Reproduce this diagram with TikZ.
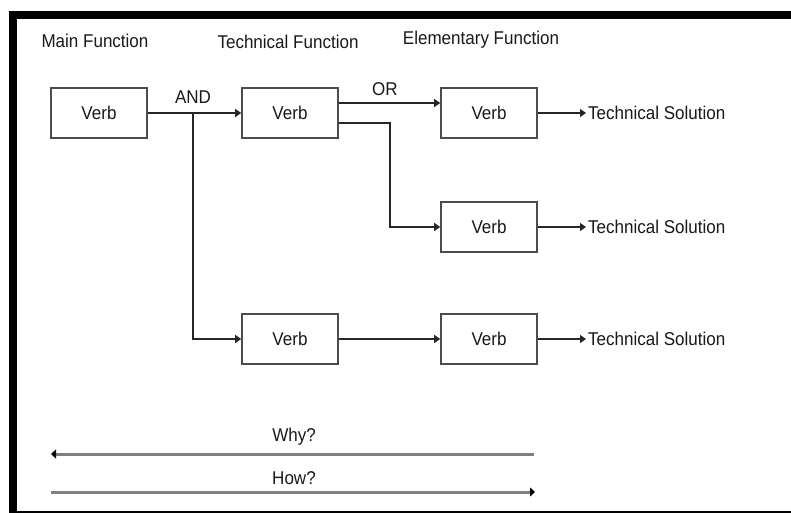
\documentclass[tikz,border=0pt]{standalone}
\usepackage{fontspec}
\setmainfont{Liberation Sans}[FakeStretch=0.92]
\usetikzlibrary{arrows.meta}

\tikzset{
  verbbox/.style={draw=black!70, line width=1.6pt, minimum width=96pt, minimum height=50pt,
    inner sep=0pt, font=\fontsize{18.5}{21}\selectfont, text=black!90},
  label/.style={font=\fontsize{18.5}{21}\selectfont, text=black!90, inner sep=0pt},
  link/.style={draw=black!85, line width=1.3pt},
  tip/.style={-{Triangle[length=6pt,width=8pt]}},
  axis/.style={draw=black!50, line width=3pt},
}

\begin{document}
\begin{tikzpicture}[x=1pt, y=-1pt]
\useasboundingbox (0,0) rectangle (791,513);
\fill[white] (0,0) rectangle (791,513);

% frame
\fill[black] (9,11) rectangle (791,19);
\fill[black] (9,11) rectangle (17,513);
\fill[black] (9,510.5) rectangle (791,513);

% column headings
\node[label] (hmain) at (95,41) {Main Function};
\node[label] (htech) at (288,42) {Technical Function};
\node[label] (helem) at (481,40) {Elementary Function};

% function boxes
\node[verbbox] (b1) at (99,113) {Verb};
\node[verbbox] (b2) at (290,113) {Verb};
\node[verbbox] (b3) at (489,113) {Verb};
\node[verbbox] (b4) at (489,227) {Verb};
\node[verbbox] (b5) at (290,339) {Verb};
\node[verbbox] (b6) at (489,339) {Verb};

% solutions
\node[label, anchor=west] (s1) at (588,113) {Technical Solution};
\node[label, anchor=west] (s2) at (588,227) {Technical Solution};
\node[label, anchor=west] (s3) at (588,339) {Technical Solution};

% AND decomposition
\coordinate (j) at (193,113);
\node[label] (and) at (193,97) {AND};
\draw[link, tip] (b1.east) -- (b2.west);
\draw[link, tip] (j) |- (b5.west);

% OR decomposition: upper branch straight, lower branch bends down
\coordinate (orup) at ([yshift=10pt]b2.east);
\coordinate (orlow) at ([yshift=-10pt]b2.east);
\coordinate (bend) at (390,227);
\node[label] (or) at (385,89) {OR};
\draw[link, tip] (orup) -- (orup -| b3.west);
\draw[link, tip] (orlow) -| (bend) -- (b4.west);

% remaining links
\draw[link, tip] (b5.east) -- (b6.west);
\draw[link, tip] (b3.east) -- ([xshift=-2pt]s1.west);
\draw[link, tip] (b4.east) -- ([xshift=-2pt]s2.west);
\draw[link, tip] (b6.east) -- ([xshift=-2pt]s3.west);

% why / how axes
\node[label] (why) at (294,437) {Why?};
\node[label] (how) at (294,478) {How?};
\coordinate (wr) at (534,454);
\coordinate (wl) at (51,454);
\coordinate (hl) at (51,492);
\coordinate (hr) at (535,492);
\draw[axis, -{Triangle[length=5pt,width=9pt,color=black]}] (wr) -- (wl);
\draw[axis, -{Triangle[length=5pt,width=9pt,color=black]}] (hl) -- (hr);
\end{tikzpicture}
\end{document}
